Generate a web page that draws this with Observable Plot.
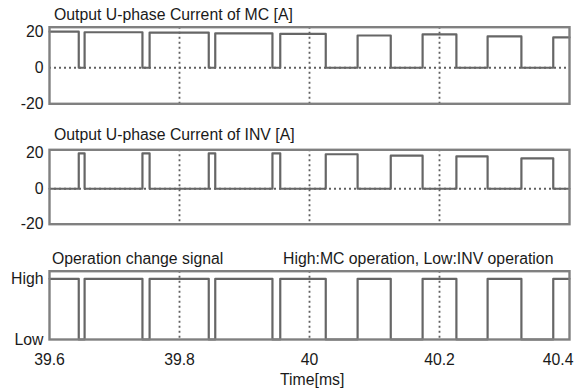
<!DOCTYPE html>
<html><head><meta charset="utf-8">
<script src="https://cdn.jsdelivr.net/npm/d3@7"></script>
<script src="https://cdn.jsdelivr.net/npm/@observablehq/plot@0.6"></script>
<style>
body{margin:0;background:#fff;}
#chart{position:relative;width:583px;height:392px;font-family:"Liberation Sans",Arial,sans-serif;color:#1a1a1a;overflow:hidden;background:#fff;}
.t{position:absolute;font-size:15.8px;line-height:15.8px;white-space:nowrap;}
.p{position:absolute;left:0;}
</style></head><body><div id="chart"></div>
<script>
// ---- data ----
const tStart = 39.6, tEnd = 40.4;                 // ms
// switching instants: MC->INV, INV->MC, ...
const switchTimes = [39.645, 39.654, 39.743, 39.754, 39.845, 39.855, 39.943, 39.955,
                     40.025, 40.074, 40.125, 40.174, 40.226, 40.274, 40.326, 40.375];
// MC current level [A] during each MC-operation interval
const mcLevels = [20, 19.7, 19.5, 19.1, 18.8, 17.9, 18.5, 17.4, 16.8];
// INV current level [A] during each INV-operation interval
const invLevels = [20, 20, 20, 20, 19.5, 18.7, 18.3, 17.2];
const xTicks = [39.6, 39.8, 40, 40.2];
const xTicksEnd = [40.4];
const gridTimes = [39.8, 40, 40.2];
const currentTicks = [-20, 0, 20];
const opTicks = [0, 1];
const opTickLabels = ["Low", "High"];
const titleMC = "Output U-phase Current of MC [A]";
const titleINV = "Output U-phase Current of INV [A]";
const titleOp = "Operation change signal";
const titleOpNote = "High:MC operation, Low:INV operation";
const xLabel = "Time[ms]";

// ---- build step series ----
function steps(levelFn) {
  const b = [tStart, ...switchTimes, tEnd];
  const pts = [];
  for (let i = 0; i < b.length - 1; i++) {
    const v = levelFn(i);
    pts.push({t: b[i], v}, {t: b[i + 1], v});
  }
  return pts;
}
const mcSeries = steps(i => i % 2 === 0 ? mcLevels[i / 2] : 0);
const invSeries = steps(i => i % 2 === 1 ? invLevels[(i - 1) / 2] : 0);
const opSeries = steps(i => i % 2 === 0 ? 1 : 0);

const chart = document.getElementById("chart");
const style = {fontFamily: '"Liberation Sans", Arial, sans-serif', fontSize: "15.8px", color: "#1a1a1a", background: "transparent", overflow: "visible"};
const gridStyle = {stroke: "#606060", strokeWidth: 1.8, strokeDasharray: "2,3"};
const lineStyle = {stroke: "#666", strokeWidth: 2.2};

function panel({data, yDomain, yTicks, tickFormat, zeroGrid, height, mt, mb, top, xAxis}) {
  const marks = [
    Plot.ruleX(gridTimes, gridStyle),
    zeroGrid ? Plot.ruleY([0], gridStyle) : null,
    Plot.line(data, {x: "t", y: "v", ...lineStyle}),
    Plot.frame({stroke: "#808080", strokeWidth: 2.4}),
    Plot.axisY(yTicks, {tickSize: 0, tickPadding: 6, tickFormat, label: null})
  ];
  if (xAxis) {
    marks.push(Plot.axisX(xTicks, {tickSize: 0, tickPadding: 14, label: null, tickFormat: d => String(d)}));
    marks.push(Plot.axisX(xTicksEnd, {tickSize: 0, tickPadding: 14, label: null, tickFormat: d => String(d), textAnchor: "end", dx: 4}));
  }
  const p = Plot.plot({
    width: 583, height, marginLeft: 49, marginRight: 14, marginTop: mt, marginBottom: mb,
    x: xAxis ? {domain: [tStart, tEnd]} : {domain: [tStart, tEnd], axis: null},
    y: {domain: yDomain},
    style, marks
  });
  p.classList.add("p");
  p.style.top = top + "px";
  chart.appendChild(p);
}

panel({data: mcSeries, yDomain: [-20, 22.5], yTicks: currentTicks, tickFormat: d => String(d), zeroGrid: true,
       height: 95, mt: 6.7, mb: 11.7, top: 20, xAxis: false});
panel({data: invSeries, yDomain: [-20, 22], yTicks: currentTicks, tickFormat: d => String(d), zeroGrid: true,
       height: 92, mt: 7.3, mb: 10.3, top: 142, xAxis: false});
panel({data: opSeries, yDomain: [0, 1.125], yTicks: opTicks, tickFormat: d => opTickLabels[d], zeroGrid: false,
       height: 128, mt: 6.7, mb: 53, top: 264, xAxis: true});

function label(text, left, top) {
  const d = document.createElement("div");
  d.className = "t";
  d.textContent = text;
  d.style.left = left + "px";
  d.style.top = top + "px";
  chart.appendChild(d);
}
label(titleMC, 54, 7.2);
label(titleINV, 54, 127.2);
label(titleOp, 52, 250.8);
label(titleOpNote, 283, 250.8);
label(xLabel, 280, 372.2);
</script></body></html>
